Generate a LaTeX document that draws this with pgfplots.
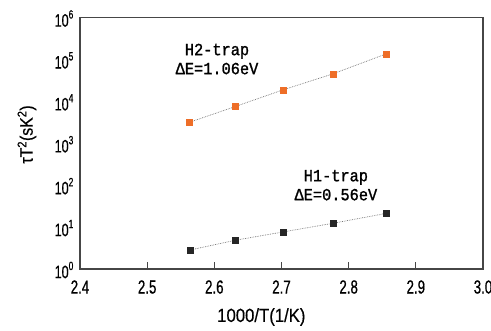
\documentclass[border=0pt]{standalone}
\usepackage{fontspec}
\setmainfont[FakeStretch=0.8]{Liberation Sans}
\newfontfamily\tickfont[FakeStretch=0.7, FakeBold=0.6]{Liberation Sans}
\newfontfamily\labelfont[FakeStretch=0.88, FakeBold=0.5]{Liberation Sans}
\newfontfamily\annfont[FakeStretch=0.9, FakeBold=1.2]{Liberation Mono}
\usepackage{pgfplots}
\pgfplotsset{compat=1.18}
\definecolor{orng}{RGB}{238,110,40}
\definecolor{axgray}{RGB}{70,70,70}
\newcommand\tp[1]{10\raisebox{0.45em}{\fontsize{12}{12}\selectfont #1}}
\begin{document}
\begin{tikzpicture}
\begin{axis}[
  width=403pt, height=251.5pt, scale only axis,
  xmin=2.4, xmax=3.0, ymode=log, ymin=1, ymax=1e6,
  axis line style={axgray, line width=1.2pt},
  xtick style={axgray, line width=1.2pt},
  tick align=inside, tick pos=left,
  major tick length=7pt,
  xtick={2.4,2.5,2.6,2.7,2.8,2.9,3.0},
  xticklabels={2.4,2.5,2.6,2.7,2.8,2.9,3.0},
  xticklabel style={anchor=center, yshift=-18pt, font=\tickfont\fontsize{19}{19}\selectfont},
  ytick={1,10,100,1000,10000,100000,1000000},
  yticklabels={\tp{0},\tp{1},\tp{2},\tp{3},\tp{4},\tp{5},\tp{6}},
  ytick style={draw=none},
  yticklabel style={anchor=center, xshift=-16pt, yshift=-1pt, font=\tickfont\fontsize{18}{18}\selectfont},
  minor ytick={},
  xlabel={1000/T(1/K)},
  xlabel style={at={(axis description cs:0.45,0)}, anchor=center, yshift=-48pt, font=\labelfont\fontsize{19}{19}\selectfont},
  ylabel={τT\textsuperscript{2}(sK\textsuperscript{2})},
  ylabel style={at={(axis description cs:0,0.535)}, anchor=center, yshift=53pt, font=\labelfont\fontsize{18}{18}\selectfont},
]
\addplot[densely dotted, black!55, line width=0.7pt] coordinates {
  (2.5627,3160) (2.6308,7480) (2.7018,18700) (2.7763,45100) (2.8556,135000)};
\addplot[only marks, mark=square*, mark size=3pt, color=orng] coordinates {
  (2.5627,3160) (2.6308,7480) (2.7018,18700) (2.7763,45100) (2.8556,135000)};
\addplot[densely dotted, black!55, line width=0.7pt] coordinates {
  (2.5640,2.84) (2.6308,4.84) (2.7018,7.64) (2.7763,12.3) (2.8565,21.3)};
\addplot[only marks, mark=square*, mark size=3pt, color=black!85] coordinates {
  (2.5640,2.84) (2.6308,4.84) (2.7018,7.64) (2.7763,12.3) (2.8565,21.3)};
\draw[axgray, line width=1.2pt] (rel axis cs:0,0.668) -- ++(7pt,0);
\draw[axgray, line width=1.2pt] (rel axis cs:0,0.453) -- ++(7pt,0);
\draw[axgray, line width=1.2pt] (rel axis cs:0,0.2386) -- ++(7pt,0);
\node[font=\annfont\fontsize{17}{19}\selectfont, align=center] at (axis cs:2.604,1.02e5) {H2-trap\\ΔE=1.06eV};
\node[font=\annfont\fontsize{17}{19}\selectfont, align=center] at (axis cs:2.781,100) {H1-trap\\ΔE=0.56eV};
\end{axis}
\pgfresetboundingbox
\path (current axis.south west) ++(-80pt,-61pt) coordinate (bl);
\path (current axis.north east) ++(8pt,17.5pt) coordinate (tr);
\useasboundingbox (bl) rectangle (tr);
\end{tikzpicture}
\end{document}
